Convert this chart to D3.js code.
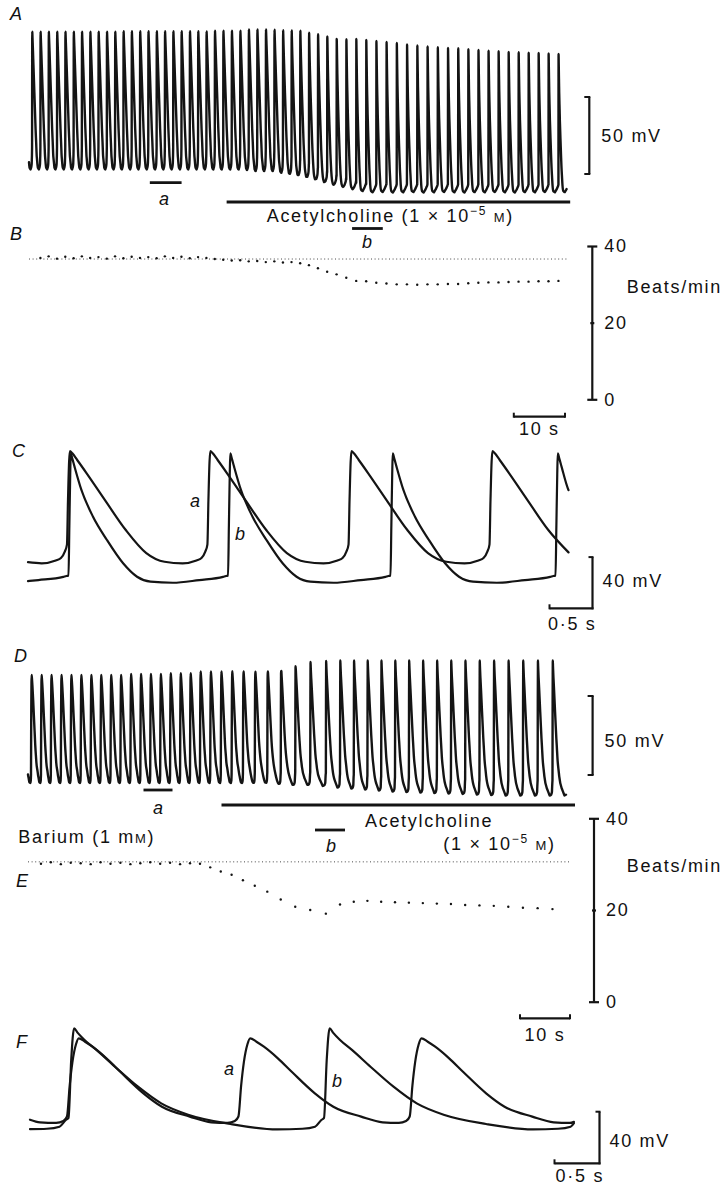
<!DOCTYPE html>
<html><head><meta charset="utf-8">
<script src="https://cdn.jsdelivr.net/npm/d3@7"></script>
<style>
html,body{margin:0;padding:0;background:#fff;}
svg{display:block;}
text{font-family:"Liberation Sans",Arial,sans-serif;fill:#111;}
.lbl{font-size:18px;letter-spacing:1.7px;}
.it{font-style:italic;}
</style></head><body>
<svg id="fig" width="725" height="1186"></svg>
<script>
// ================= DATA =================
// Panel A/B: instantaneous rate (beats/min) of each beat interval
const ratesAB = [36.9,37.3,36.7,37.2,36.8,37.3,36.9,37.1,36.7,37.3,36.8,37.2,36.9,37.1,36.8,37.3,36.9,37.2,36.8,37.1,36.9,
  36.6,36.4,36.2,36.3,36.0,36.1,35.8,36.0,35.7,35.8,35.5,
  35.0,34.2,33.3,32.6,31.7,30.9,
  30.8,30.4,30.2,30.0,30.0,29.9,30.0,30.0,30.1,30.1,30.3,30.4,30.5,30.5,30.6,30.7,30.7,30.8,30.8,30.9];
// Panel A: peak and maximum diastolic potential (mV) of each beat
const peaksA = [29.1,29.1,29.1,29.1,29.1,29.1,29.1,29.1,29.1,29.1,29.1,
  29.4,29.4,29.4,29.4,29.4,29.4,29.4,29.4,29.4,29.4,
  29.2,29.7,29.7,29.7,29.7,30.5,30.5,30.5,30.5,30.5,30.5,30.5,
  29.5,28.6,27.4,26.0,25.0,24.4,23.7,23.1,22.4,21.8,20.8,20.1,19.5,19.0,18.6,18.3,17.7,17.2,16.8,16.4,16.0,15.7,15.5,15.3,15.0,14.6];
const troughsA = [-60.4,-60.4,-60.4,-60.4,-60.4,-60.4,-60.4,-60.4,-60.4,-60.4,-60.4,-60.4,-60.4,-60.4,-60.4,-60.4,-60.4,-60.4,-60.4,-60.4,-60.4,-60.4,-60.4,-60.4,-60.4,
  -60.7,-61.4,-61.4,-61.4,-62.7,-63.6,-64.6,-65.9,-67.5,-69.2,-70.8,-72.1,-73.4,-74.4,
  -75.2,-75.0,-75.3,-75.2,-75.1,-75.3,-75.2,-75.0,-75.2,-75.3,-75.1,-75.2,-75.0,-75.2,-75.3,-75.1,-75.2,-75.0,-75.2,-75.1];
// share of acetylcholine-type waveform (0 = trace a, 1 = trace b)
const achMixA = [0,0,0,0,0,0,0,0,0,0,0,0,0,0,0,0,0,0,0,0,0,0,0,0,0,0,0,0,0,
  0.1,0.2,0.3,0.4,0.5,0.6,0.7,0.8,0.9,
  1,1,1,1,1,1,1,1,1,1,1,1,1,1,1,1,1,1,1,1,1];
const controlRateB = 36.6;
const firstBeatA = 0.6, endA = 105.0, refEndB = 105.3;
const achA = [38.6, 105.7], markA_a = [23.6, 29.8], markA_b = [63.1, 69.1];

// Panel D/E (barium)
const ratesDE = [30.1,30.4,30.0,30.3,30.2,30.0,30.4,30.1,30.3,30.0,30.2,30.4,30.1,30.3,30.0,30.2,30.1,
  29.3,28.4,27.7,26.5,25.3,24.0,22.3,20.7,20.0,19.2,21.2,21.8,22.0,
  21.8,21.7,21.6,21.5,21.4,21.3,21.1,21.0,20.9,20.7,20.5,20.4,20.2];
const peaksD = [1.6,1.6,1.6,1.6,1.6,1.6,1.6,1.6,1.6,1.6,2.2,2.2,2.2,2.2,2.8,2.8,2.8,3.8,3.8,3.8,
  4.7,5.4,6.0,7.0,7.9,9.2,9.8,10.4,
  10.8,10.8,10.8,10.8,10.8,10.8,10.8,10.8,10.8,10.8,10.8,10.8,10.8,10.8,10.8,10.8];
const troughsD = [-66.8,-66.8,-66.8,-66.8,-66.8,-66.8,-66.8,-66.8,-66.8,-66.8,-66.8,-66.8,-66.8,-66.8,-66.8,-66.8,-66.8,-66.8,-66.8,-66.8,-66.8,-66.8,-66.8,
  -67.4,-68.0,-68.0,-68.7,-69.6,-70.3,-70.9,-71.5,-72.2,-72.5,-72.8,-73.1,-73.4,-73.7,-74.1,-74.4,
  -74.7,-74.7,-74.7,-74.7,-74.7];
const achMixD = [0,0,0,0,0,0,0,0,0,0,0,0,0,0,0,0,0,0,0,0,
  0.15,0.3,0.45,0.6,0.75,0.9,
  1,1,1,1,1,1,1,1,1,1,1,1,1,1,1,1,1,1];
const controlRateE = 30.5;
const firstBeatD = 0.6, endD = 107.6, refEndE = 108.7;
const achD = [38.7, 109.4], markD_a = [23.1, 28.9], markD_b = [57.4, 63.4];

// Panel C: single action potentials [time from upstroke (s), mV]
const apC_a = [[0,-45],[0.012,-10],[0.025,20],[0.035,28.1],[0.06,26.5],[0.119,21.1],[0.227,10.9],[0.442,-10.2],
  [0.684,-33.6],[0.926,-51.6],[1.142,-58.4],[1.356,-59.6],[1.52,-57.4],[1.58,-55.5],[1.625,-50.5],[1.65,-45]];
const apC_b = [[0,-69.3],[0.01,-30],[0.02,10],[0.026,26.3],[0.045,22],[0.07,15.9],[0.15,-2.3],[0.285,-23.2],
  [0.447,-41.4],[0.635,-59.6],[0.797,-70.1],[0.958,-74.0],[1.23,-74.8],[1.55,-72.7],[1.84,-70.2],[1.875,-69.5],[1.9,-69.3]];
const upC_a = [0.453, 2.086, 3.727, 5.366];
const upC_b = [0.471, 2.326, 4.215, 6.134];
const endC = 6.285;

// Panel F (barium)
const apF_a = [[0,-64],[0.03,-40],[0.06,-22],[0.1,-8],[0.13,-3.4],[0.2,-6],[0.283,-9.9],[0.438,-18.9],[0.592,-29.3],
  [0.849,-46],[1.054,-56.4],[1.362,-64.1],[1.6,-68.5],[1.78,-69],[1.86,-67.5],[1.9,-64]];
const apF_b = [[0,-65],[0.03,-20],[0.062,4.4],[0.1,1],[0.178,-4.7],[0.31,-12.4],[0.516,-25.4],[0.772,-40.9],
  [1.03,-53.8],[1.338,-62.8],[1.8,-69.8],[2.32,-74],[2.6,-73.5],[2.74,-71.9],[2.81,-66.7],[2.84,-65]];
const upF_a = [0.411, 2.316, 4.219];
const upF_b = [0.428, 3.267];
const endF = 6.044;

const beatTicks = [0, 20, 40];

// ================= DRAWING =================
const ink = '#141414';
const svg = d3.select('#fig');
svg.append('rect').attr('width',725).attr('height',1186).attr('fill','#fff');

const xAB = d3.scaleLinear().domain([0,100]).range([29, 29+512]);
const yA  = d3.scaleLinear().domain([-75,30]).range([192, 192-105*1.54]);
const yB  = d3.scaleLinear().domain([0,40]).range([399.3, 246]);
const xC  = d3.scaleLinear().domain([0,1]).range([28, 28+86]);
const yC  = d3.scaleLinear().domain([-75,0]).range([583, 487]);
const xDE = d3.scaleLinear().domain([0,100]).range([28, 528]);
const yD  = d3.scaleLinear().domain([-75,25]).range([796, 796-158]);
const yE  = d3.scaleLinear().domain([0,40]).range([1001.7, 818.3]);
const xF  = d3.scaleLinear().domain([0,1]).range([30, 120]);
const yF  = d3.scaleLinear().domain([-75,25]).range([1130.7, 1130.7-129]);

function tmpl(pts){ const v=pts.map(p=>p[1]); return {pts, P:pts[pts.length-1][0], vmin:d3.min(v), vmax:d3.max(v)}; }
function mapped(T, I){ const f=0.45*T.P; return T.pts.map(([t,v])=>[t<=f?t:f+(t-f)*(I-f)/(T.P-f), v]); }
function interp(mp, dt){
  if (dt<=mp[0][0]) return mp[0][1];
  for (let i=1;i<mp.length;i++){ if (dt<=mp[i][0]){ const [t0,v0]=mp[i-1],[t1,v1]=mp[i]; return v0+(v1-v0)*(dt-t0)/(t1-t0);} }
  return mp[mp.length-1][1];
}
function dedupe(pts){ pts.sort((a,b)=>a[0]-b[0]); const o=[]; pts.forEach(p=>{ if(!o.length||p[0]-o[o.length-1][0]>1e-6) o.push(p); }); return o; }

// trace built from one template repeated at the given upstroke times
function rawTrace(T, ups, tEnd){
  const cyc=[{u:ups[0]-T.P, I:T.P}];
  ups.forEach((u,i)=>cyc.push({u, I: i<ups.length-1 ? ups[i+1]-u : T.P}));
  const valueAt=t=>{ let c=cyc[0]; cyc.forEach(k=>{ if(k.u<=t) c=k; }); return interp(mapped(T,c.I), t-c.u); };
  const pts=[[0,valueAt(0)],[tEnd,valueAt(tEnd)]];
  cyc.forEach(c=>{ mapped(T,c.I).forEach(([dt,v])=>{ const t=c.u+dt; if(t>0&&t<tEnd&&dt<c.I-1e-6) pts.push([t,v]); }); });
  return dedupe(pts);
}
// long recording: beat times from rates, each beat scaled to its peak / trough
function beatTrace(Ta, Tb, rates, first, peaks, troughs, mix, tEnd){
  const ints = rates.map(r=>60/r);
  const times=[first]; ints.forEach((d,i)=>times.push(times[i]+d));
  const cyc=[{u:first-ints[0], I:ints[0], pk:peaks[0], tr:troughs[0], w:mix[0]}];
  times.forEach((u,i)=>cyc.push({u, I: ints[Math.min(i,ints.length-1)], pk:peaks[i], tr:troughs[i], w:mix[i]}));
  const pts=[];
  const valAt=(c,dt,ma,mb)=>{ const na=(interp(ma,dt)-Ta.vmin)/(Ta.vmax-Ta.vmin), nb=(interp(mb,dt)-Tb.vmin)/(Tb.vmax-Tb.vmin);
    return c.tr+((1-c.w)*na+c.w*nb)*(c.pk-c.tr); };
  cyc.forEach(c=>{
    const ma=mapped(Ta,c.I), mb=mapped(Tb,c.I);
    const grid=dedupe(ma.map(p=>[p[0]]).concat(mb.map(p=>[p[0]]))).map(p=>p[0]);
    if (c.u<0) pts.push([0, valAt(c,-c.u,ma,mb)]);
    if (c.u<tEnd && c.u+c.I>tEnd) pts.push([tEnd, valAt(c,tEnd-c.u,ma,mb)]);
    grid.forEach(dt=>{ const t=c.u+dt; if(t>0&&t<tEnd&&dt<c.I-1e-6) pts.push([t, valAt(c,dt,ma,mb)]); });
  });
  return {pts:dedupe(pts), times};
}

const line=(xs,ys)=>d3.line().x(d=>xs(d[0])).y(d=>ys(d[1])).curve(d3.curveMonotoneX);
function path(d, xs, ys, w){ svg.append('path').attr('d', line(xs,ys)(d)).attr('fill','none').attr('stroke',ink)
  .attr('stroke-width',w).attr('stroke-linejoin','round').attr('stroke-linecap','round'); }
function seg(x1,y1,x2,y2,w){ svg.append('line').attr('x1',x1).attr('y1',y1).attr('x2',x2).attr('y2',y2).attr('stroke',ink).attr('stroke-width',w); }
function txt(x,y,s,cls){ return svg.append('text').attr('x',x).attr('y',y).attr('class',cls||'lbl').text(s); }
function letter(x,y,s){ svg.append('text').attr('x',x).attr('y',y).attr('class','it').attr('font-size',18).text(s); }
function achLabel(x,y,prefix){
  const t=svg.append('text').attr('x',x).attr('y',y).attr('class','lbl');
  t.append('tspan').text(prefix+'(1 × 10');
  t.append('tspan').attr('dy',-7).attr('font-size',12).text('−5');
  t.append('tspan').attr('dy',7).text(' ');
  t.append('tspan').attr('font-size',13).text('M');
  t.append('tspan').text(')');
}
function rateAxis(yS, x0){
  const g=svg.append('g').attr('transform',`translate(${x0},0)`);
  g.call(d3.axisRight(yS).tickValues(beatTicks).tickSize(5).tickPadding(7).tickFormat(d3.format('d')));
  g.attr('font-size',null).attr('font-family',null);
  g.select('.domain').remove();
  g.append('line').attr('y1',yS(0)).attr('y2',yS(40)).attr('stroke',ink).attr('stroke-width',2.2);
  g.selectAll('.tick line').attr('x1',d=>d===20?-2:-5).attr('x2',d=>d===20?2:5).attr('stroke',ink).attr('stroke-width',2.2);
  g.selectAll('.tick text').attr('class','lbl').attr('fill',ink).attr('x',12);
}
function timeBar(xs, xRight, y, secs, label, labelY){
  const L=xs(secs)-xs(0);
  seg(xRight-L,y,xRight,y,2.2); seg(xRight-L,y+1,xRight-L,y-4,2); seg(xRight,y+1,xRight,y-4,2);
  txt(xRight-L/2,labelY,label).attr('text-anchor','middle');
}
function mvBracket(ys, x, yBottom, mv, label, labelY){
  const L=ys(0)-ys(mv);
  seg(x,yBottom-L,x,yBottom,2.2); seg(x-5,yBottom-L,x+1,yBottom-L,2); seg(x-5,yBottom,x+1,yBottom,2);
  txt(x+12,labelY,label);
}
function ellBar(xs, ys, x, yBottom, mv, secs, lab1, lab1Y, lab2, lab2X, lab2Y){
  const L=ys(0)-ys(mv), H=xs(secs)-xs(0);
  seg(x,yBottom-L,x,yBottom+1,2.2); seg(x-4,yBottom-L,x+1,yBottom-L,2);
  seg(x-H,yBottom,x+1,yBottom,2.2); seg(x-H,yBottom+1,x-H,yBottom-4,2);
  txt(x+10,lab1Y,lab1); txt(lab2X,lab2Y,lab2);
}

const Ca=tmpl(apC_a), Cb=tmpl(apC_b), Fa=tmpl(apF_a), Fb=tmpl(apF_b);

// ---------- Panel A ----------
letter(10,20,'A');
const A = beatTrace(Ca, Cb, ratesAB, firstBeatA, peaksA, troughsA, achMixA, endA);
path(A.pts, xAB, yA, 2.4);
mvBracket(yA, 589.3, 174, 50, '50 mV', 141.5);
seg(xAB(markA_a[0]),182.7,xAB(markA_a[1]),182.7,2.8);
txt(159,205,'a','lbl it');
seg(xAB(achA[0]),202,xAB(achA[1]),202,3.2);
achLabel(266.7,221.7,'Acetylcholine ');
seg(xAB(markA_b[0]),228.5,xAB(markA_b[1]),228.5,2.8);
txt(362,248,'b','lbl it');

// ---------- Panel B ----------
letter(10,240,'B');
svg.append('line').attr('x1',xAB(0)).attr('x2',xAB(refEndB)).attr('y1',yB(controlRateB)).attr('y2',yB(controlRateB))
  .attr('stroke','#333').attr('stroke-width',0.9).attr('stroke-dasharray','1 2.6');
svg.append('g').selectAll('circle').data(ratesAB).join('circle')
  .attr('cx',(d,i)=>xAB(A.times[i+1])).attr('cy',d=>yB(d)).attr('r',1.2).attr('fill',ink);
rateAxis(yB, 592.3);
txt(626.7,293,'Beats/min');
timeBar(xAB, 565, 416.7, 10, '10 s', 435);

// ---------- Panel C ----------
letter(12,457,'C');
path(rawTrace(Ca, upC_a, endC), xC, yC, 2.2);
path(rawTrace(Cb, upC_b, endC), xC, yC, 2.2);
txt(190,507,'a','lbl it');
txt(235,540,'b','lbl it');
ellBar(xC, yC, 592.5, 608.3, 40, 0.5, '40 mV', 586.5, '0·5 s', 548, 630);

// ---------- Panel D ----------
letter(14,662,'D');
const D = beatTrace(Fa, Fb, ratesDE, firstBeatD, peaksD, troughsD, achMixD, endD);
path(D.pts, xDE, yD, 2.4);
mvBracket(yD, 592.6, 775, 50, '50 mV', 746.5);
seg(xDE(markD_a[0]),790,xDE(markD_a[1]),790,2.8);
txt(153,814,'a','lbl it');
seg(xDE(achD[0]),805,xDE(achD[1]),805,3.2);
txt(365,826.7,'Acetylcholine');
achLabel(443.3,850,'');
seg(xDE(markD_b[0]),830,xDE(markD_b[1]),830,2.8);
txt(326,851.7,'b','lbl it');
const ba=svg.append('text').attr('x',18.3).attr('y',843.3).attr('class','lbl');
ba.append('tspan').text('Barium (1 m'); ba.append('tspan').attr('font-size',13).text('M'); ba.append('tspan').text(')');

// ---------- Panel E ----------
letter(16,887,'E');
svg.append('line').attr('x1',xDE(0)).attr('x2',xDE(refEndE)).attr('y1',yE(controlRateE)).attr('y2',yE(controlRateE))
  .attr('stroke','#333').attr('stroke-width',0.9).attr('stroke-dasharray','1 2.6');
svg.append('g').selectAll('circle').data(ratesDE).join('circle')
  .attr('cx',(d,i)=>xDE(D.times[i+1])).attr('cy',d=>yE(d)).attr('r',1.2).attr('fill',ink);
rateAxis(yE, 594);
txt(626.7,871.5,'Beats/min');
timeBar(xDE, 570, 1018.3, 10, '10 s', 1041);

// ---------- Panel F ----------
letter(16,1048,'F');
path(rawTrace(Fa, upF_a, endF), xF, yF, 2.2);
path(rawTrace(Fb, upF_b, endF), xF, yF, 2.2);
txt(224,1075,'a','lbl it');
txt(332,1087,'b','lbl it');
ellBar(xF, yF, 599.5, 1163.3, 40, 0.5, '40 mV', 1146.5, '0·5 s', 555.6, 1181.5);
</script></body></html>
